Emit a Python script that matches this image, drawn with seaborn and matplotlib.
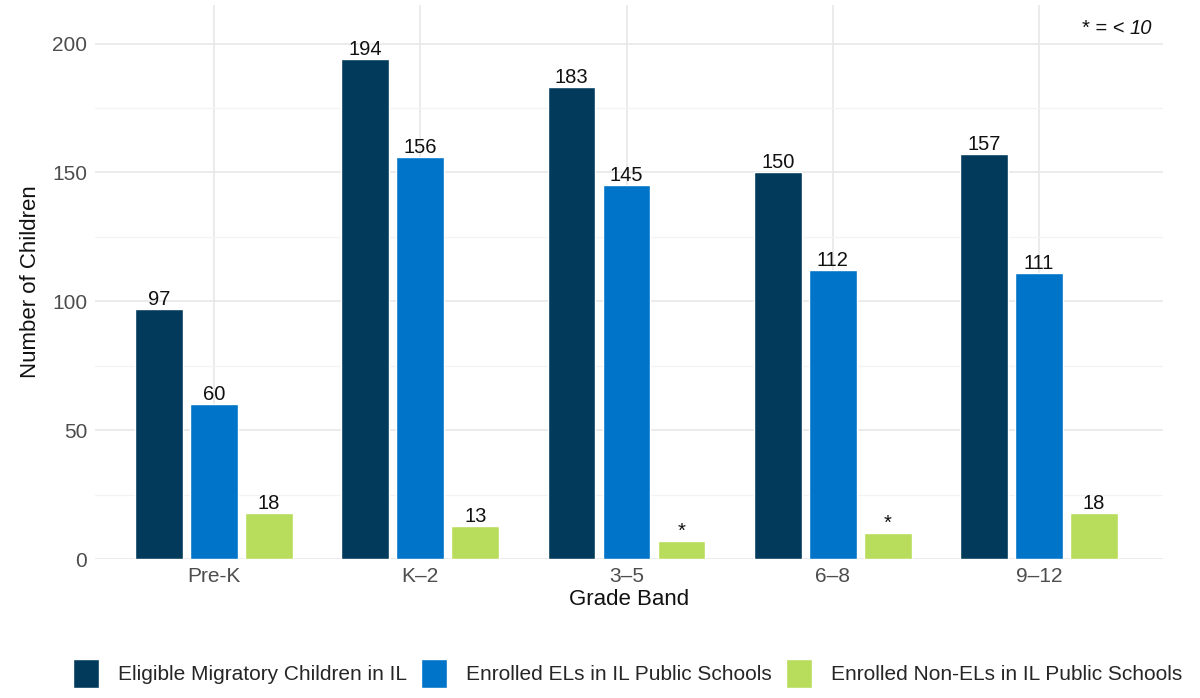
import matplotlib
matplotlib.use("Agg")
import matplotlib.pyplot as plt
import pandas as pd
import seaborn as sns
from matplotlib.ticker import MultipleLocator

# Data
grades = ["Pre-K", "K–2", "3–5", "6–8", "9–12"]
series_names = [
    "Eligible Migratory Children in IL",
    "Enrolled ELs in IL Public Schools",
    "Enrolled Non-ELs in IL Public Schools",
]
eligible = [97, 194, 183, 150, 157]
enrolled_el = [60, 156, 145, 112, 111]
enrolled_non_el = [18, 13, 7, 10, 18]
# suppressed counts (< 10) are shown as "*"
eligible_labels = ["97", "194", "183", "150", "157"]
enrolled_el_labels = ["60", "156", "145", "112", "111"]
enrolled_non_el_labels = ["18", "13", "*", "*", "18"]

colors = ["#023a5b", "#0074c8", "#b8dc5b"]

df = pd.DataFrame({
    "grade": grades * 3,
    "series": [series_names[0]] * 5 + [series_names[1]] * 5 + [series_names[2]] * 5,
    "count": eligible + enrolled_el + enrolled_non_el,
})

sns.set_style("white")
plt.rcParams["font.family"] = ["Liberation Sans", "DejaVu Sans"]

fig = plt.figure(figsize=(12, 6.98), dpi=100)
ax = fig.add_axes([0.0795, 0.199, 0.8895, 0.794])

sns.barplot(data=df, x="grade", y="count", hue="series", order=grades,
            hue_order=series_names, palette=colors, width=0.8, gap=0.13,
            saturation=1, ax=ax, zorder=3)

# value labels on top of bars
for cont, labels in zip(ax.containers, [eligible_labels, enrolled_el_labels, enrolled_non_el_labels]):
    ax.bar_label(cont, labels=labels, padding=0, fontsize=14.5, color="#111111")

# axes & grid
ax.set_xlim(-0.575, 4.6)
ax.set_ylim(0, 215)
ax.yaxis.set_major_locator(MultipleLocator(50))
ax.yaxis.set_minor_locator(MultipleLocator(25))
ax.grid(axis="y", which="major", color="#e6e6e6", linewidth=1.1, zorder=0)
ax.grid(axis="y", which="minor", color="#f3f3f3", linewidth=0.9, zorder=0)
ax.grid(axis="x", which="major", color="#e6e6e6", linewidth=1.1, zorder=0)
for s in ax.spines.values():
    s.set_visible(False)
ax.tick_params(axis="both", which="both", length=0, labelsize=15, labelcolor="#4d4d4d", pad=6)
ax.set_xlabel("Grade Band", fontsize=16, color="#111111", labelpad=2)
ax.set_ylabel("Number of Children", fontsize=16, color="#111111", labelpad=8)

# note in the upper right corner: "* = < 10" with the 10 in italics
t10 = ax.text(0.99, 0.975, "10", transform=ax.transAxes, ha="right", va="top",
              fontsize=14.5, style="italic", color="#111111")
fig.canvas.draw()
bb = t10.get_window_extent(fig.canvas.get_renderer())
x_left = ax.transAxes.inverted().transform((bb.x0 - 5, bb.y0))[0]
ax.text(x_left, 0.975, "* = <", transform=ax.transAxes, ha="right", va="top",
        fontsize=14.5, color="#111111")

# legend at the bottom
handles, labels = ax.get_legend_handles_labels()
ax.get_legend().remove()
fig.legend(handles, labels, loc="lower center", bbox_to_anchor=(0.523, -0.012), ncol=3,
           frameon=False, fontsize=15, handlelength=1.25, handleheight=1.75,
           handletextpad=0.9, columnspacing=0.7)

fig.savefig("out.png", dpi=100)
